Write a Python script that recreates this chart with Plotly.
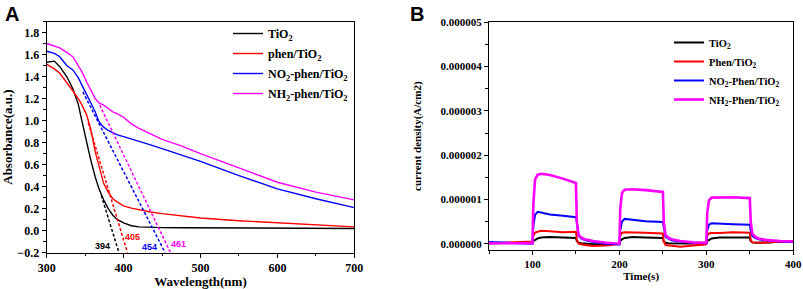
import plotly.graph_objects as go

# ---------------- Panel A data (UV-vis absorbance) ----------------
wavelength = [300, 310, 317, 326, 334, 341, 346, 352, 357, 363, 368, 374, 380, 386, 392,
              400, 410, 420, 435, 450, 475, 500, 550, 600, 650, 700]
abs_tio2 = [1.53, 1.54, 1.49, 1.40, 1.29, 1.15, 0.99, 0.80, 0.65, 0.49, 0.38, 0.28, 0.20, 0.14, 0.10,
            0.07, 0.045, 0.035, 0.030, 0.028, 0.027, 0.026, 0.024, 0.022, 0.020, 0.020]
abs_phen = [1.51, 1.47, 1.43, 1.35, 1.27, 1.20, 1.14, 1.05, 0.93, 0.72, 0.58, 0.43, 0.35, 0.29, 0.26,
            0.225, 0.205, 0.19, 0.17, 0.155, 0.135, 0.115, 0.09, 0.07, 0.05, 0.035]
abs_no2 = [1.63, 1.61, 1.58, 1.50, 1.46, 1.39, 1.32, 1.24, 1.17, 1.08, 0.99, 0.94, 0.91, 0.89, 0.87,
           0.855, 0.835, 0.81, 0.78, 0.745, 0.69, 0.63, 0.50, 0.38, 0.29, 0.21]
abs_nh2 = [1.70, 1.68, 1.66, 1.62, 1.58, 1.50, 1.44, 1.35, 1.28, 1.20, 1.16, 1.14, 1.11, 1.08, 1.06,
           1.03, 0.97, 0.93, 0.88, 0.83, 0.77, 0.70, 0.57, 0.44, 0.35, 0.28]

# tangent (band edge) lines
tan_tio2_x, tan_tio2_y = [371, 394], [0.32, -0.2]
tan_phen_x, tan_phen_y = [354, 405], [0.98, -0.2]
tan_no2_x, tan_no2_y = [347, 454], [1.26, -0.2]
tan_nh2_x, tan_nh2_y = [369, 461], [1.14, -0.2]
edge_labels = ["394", "405", "454", "461"]
edge_label_x = [372.5, 411.5, 434.0, 472.0]
edge_label_y = [-0.135, -0.06, -0.145, -0.12]

# ---------------- Panel B data (photocurrent, units 1e-6 A/cm2) ----------------
time_s = [50, 70, 90, 100, 101, 103, 106, 110, 120, 135, 150, 151, 153, 156, 160, 170, 185, 199,
          200, 201, 203, 206, 215, 230, 250, 251, 253, 256, 260, 270, 285, 299,
          300, 301, 303, 306, 315, 330, 350, 351, 353, 356, 360, 370, 385, 400]
cur_tio2 = [0.01, 0.01, 0.01, 0.02, 0.06, 0.09, 0.12, 0.14, 0.15, 0.14, 0.13, 0.06, 0.02, 0.01, 0.0, -0.01, -0.01, 0.0,
            0.0, 0.06, 0.10, 0.13, 0.15, 0.14, 0.13, 0.05, 0.02, 0.01, 0.01, 0.0, 0.0, 0.0,
            0.0, 0.06, 0.09, 0.12, 0.14, 0.14, 0.14, 0.06, 0.03, 0.02, 0.02, 0.03, 0.05, 0.05]
cur_phen = [0.01, 0.02, 0.03, 0.05, 0.18, 0.25, 0.27, 0.29, 0.28, 0.26, 0.27, 0.10, 0.0, -0.02, -0.03, -0.05, -0.04, -0.01,
            0.0, 0.18, 0.25, 0.26, 0.25, 0.25, 0.23, 0.05, -0.03, -0.04, -0.04, -0.07, -0.04, -0.02,
            0.0, 0.18, 0.23, 0.24, 0.24, 0.26, 0.25, 0.08, 0.03, 0.02, 0.02, 0.03, 0.05, 0.06]
cur_no2 = [0.04, 0.03, 0.02, 0.0, 0.40, 0.65, 0.72, 0.70, 0.66, 0.63, 0.60, 0.50, 0.18, 0.12, 0.08, 0.04, 0.0, -0.02,
           -0.02, 0.30, 0.50, 0.56, 0.54, 0.51, 0.49, 0.35, 0.16, 0.12, 0.08, 0.05, 0.02, 0.01,
           0.01, 0.30, 0.43, 0.46, 0.45, 0.44, 0.43, 0.30, 0.17, 0.13, 0.10, 0.07, 0.05, 0.04]
cur_nh2 = [0.01, 0.01, 0.01, 0.01, 0.90, 1.45, 1.56, 1.58, 1.55, 1.47, 1.37, 0.50, 0.20, 0.14, 0.10, 0.06, 0.02, 0.0,
           0.0, 0.80, 1.15, 1.22, 1.23, 1.21, 1.17, 0.50, 0.20, 0.14, 0.10, 0.06, 0.03, 0.02,
           0.02, 0.70, 0.98, 1.04, 1.05, 1.05, 1.03, 0.50, 0.22, 0.16, 0.12, 0.08, 0.06, 0.05]

names_a = ["TiO<sub>2</sub>", "phen/TiO<sub>2</sub>", "NO<sub>2</sub>-phen/TiO<sub>2</sub>",
           "NH<sub>2</sub>-phen/TiO<sub>2</sub>"]
names_b = ["TiO<sub>2</sub>", "Phen/TiO<sub>2</sub>", "NO<sub>2</sub>-Phen/TiO<sub>2</sub>",
           "NH<sub>2</sub>-Phen/TiO<sub>2</sub>"]
colors = ["#000000", "#ff0000", "#0000ff", "#ff00ff"]

SERIF = "Liberation Serif"
SANS = "Liberation Sans"

fig = go.Figure()

abs_series = [abs_tio2, abs_phen, abs_no2, abs_nh2]
for i, ys in enumerate(abs_series):
    fig.add_trace(go.Scatter(x=wavelength, y=ys, mode="lines", name=names_a[i],
                             line=dict(color=colors[i], width=1.4),
                             xaxis="x", yaxis="y", legend="legend", legendgroup="a%d" % i))

tans = [(tan_tio2_x, tan_tio2_y), (tan_phen_x, tan_phen_y), (tan_no2_x, tan_no2_y), (tan_nh2_x, tan_nh2_y)]
for i, (tx, ty) in enumerate(tans):
    fig.add_trace(go.Scatter(x=tx, y=ty, mode="lines", showlegend=False,
                             line=dict(color=colors[i], width=1.5, dash="3px,2px"),
                             xaxis="x", yaxis="y"))

scale = 1e-6
cur_series = [cur_tio2, cur_phen, cur_no2, cur_nh2]
widths_b = [2.0, 2.0, 2.0, 2.6]
for i, ys in enumerate(cur_series):
    fig.add_trace(go.Scatter(x=time_s, y=[v * scale for v in ys], mode="lines", name=names_b[i],
                             line=dict(color=colors[i], width=widths_b[i]),
                             xaxis="x2", yaxis="y2", legend="legend2", legendgroup="b%d" % i))

W, H = 803, 289
def px_x(p):
    return p / W
def px_y(p):
    return 1 - p / H

axis_common = dict(showline=True, linecolor="black", linewidth=1.3, mirror=True,
                   ticks="outside", ticklen=4, tickwidth=1.2, tickcolor="black",
                   showgrid=False, zeroline=False)
font_a = dict(family=SERIF, size=12, color="black", weight="bold")
font_b = dict(family=SERIF, size=11, color="black", weight="bold")

annotations = []
for lab, lx, ly, c in zip(edge_labels, edge_label_x, edge_label_y, colors):
    annotations.append(dict(x=lx, y=ly, xref="x", yref="y", text=lab, showarrow=False,
                            font=dict(family=SANS, size=9, color=c, weight="bold")))
annotations.append(dict(x=px_x(3), y=px_y(1), xref="paper", yref="paper", text="A",
                        showarrow=False, xanchor="left", yanchor="top",
                        font=dict(family=SANS, size=20, color="black", weight="bold")))
annotations.append(dict(x=px_x(408), y=px_y(1), xref="paper", yref="paper", text="B",
                        showarrow=False, xanchor="left", yanchor="top",
                        font=dict(family=SANS, size=20, color="black", weight="bold")))

fig.update_layout(
    width=W, height=H, margin=dict(l=0, r=0, t=0, b=0),
    paper_bgcolor="white", plot_bgcolor="white",
    xaxis=dict(domain=[px_x(46.7), px_x(354.3)], range=[300, 700], dtick=100, tick0=300,
               minor=dict(dtick=50, ticks="outside", ticklen=2.5, tickcolor="black"),
               tickfont=font_a,
               title=dict(text="Wavelength(nm)", standoff=1,
                          font=dict(family=SERIF, size=13, color="black", weight="bold")),
               anchor="y", automargin=False, **axis_common),
    yaxis=dict(domain=[px_y(252.7), px_y(21.5)], range=[-0.2, 1.9], dtick=0.2, tick0=-0.2,
               tickformat=".1f", tickfont=font_a,
               minor=dict(dtick=0.1, ticks="outside", ticklen=2.5, tickcolor="black"),
               title=dict(text="Absorbance(a.u.)", standoff=2,
                          font=dict(family=SERIF, size=13, color="black", weight="bold")),
               anchor="x", automargin=False, **axis_common),
    xaxis2=dict(domain=[px_x(489), px_x(793.3)], range=[50, 400], dtick=100, tick0=0,
                minor=dict(dtick=50, ticks="outside", ticklen=2.5, tickcolor="black"),
                tickfont=font_b,
                title=dict(text="Time(s)", standoff=1,
                           font=dict(family=SERIF, size=11, color="black", weight="bold")),
                anchor="y2", automargin=False, **axis_common),
    yaxis2=dict(domain=[px_y(250), px_y(22.3)], range=[-0.142e-6, 5e-6], dtick=1e-6, tick0=0,
                tickformat=".6f", tickfont=font_b,
                minor=dict(dtick=0.5e-6, ticks="outside", ticklen=2.5, tickcolor="black"),
                title=dict(text="current density(A/cm2)", standoff=16,
                           font=dict(family=SERIF, size=11, color="black", weight="bold")),
                anchor="x2", automargin=False, **axis_common),
    legend=dict(x=px_x(228), y=px_y(19), xanchor="left", yanchor="top",
                bgcolor="rgba(0,0,0,0)", borderwidth=0, tracegroupgap=1,
                font=dict(family=SERIF, size=12, color="black", weight="bold")),
    legend2=dict(x=px_x(669), y=px_y(28), xanchor="left", yanchor="top",
                 bgcolor="rgba(0,0,0,0)", borderwidth=0, tracegroupgap=0,
                 font=dict(family=SERIF, size=10.5, color="black", weight="bold")),
    annotations=annotations,
    showlegend=True,
)

fig.write_html("out.html", config={"displayModeBar": False},
               post_script="document.body.style.margin='0px';document.body.style.overflow='hidden';")
